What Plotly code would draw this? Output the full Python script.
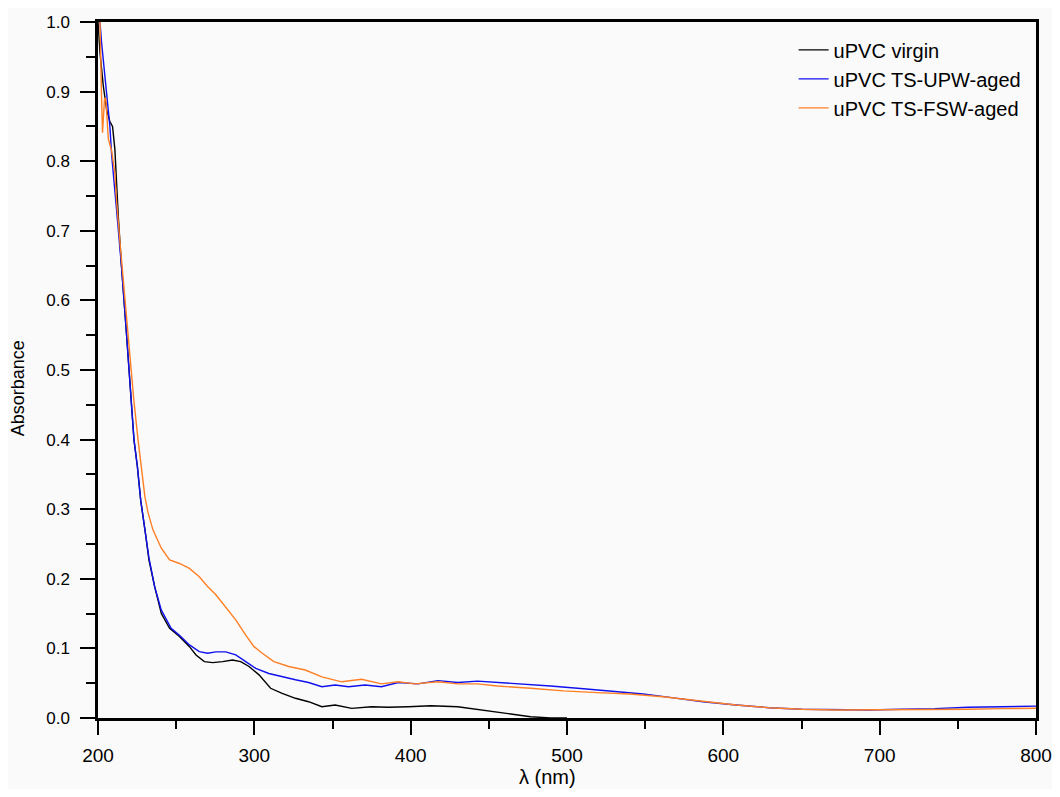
import plotly.graph_objects as go

# ---- data ----
wl_virgin = [200, 201.3, 203.4, 205.5, 207.6, 209.3, 210.8, 211.9, 213, 215, 217.2, 218.2, 219.7,
             221, 223, 225.2, 227.3, 230.3, 232.6, 236.2, 240.5, 245.8, 252.1, 258.5, 262.7, 268,
             273.3, 279.7, 286, 291.3, 296.6, 303, 310.4, 317.8, 326.3, 334.7, 343.2, 351.7, 362.3,
             375, 385.6, 398.3, 413.1, 430.1, 447, 464, 476.7, 489.4, 500]
abs_virgin = [1.0, 0.955, 0.908, 0.874, 0.857, 0.850, 0.817, 0.762, 0.72, 0.65, 0.589, 0.553, 0.505,
              0.457, 0.40, 0.361, 0.313, 0.266, 0.227, 0.189, 0.150, 0.129, 0.117, 0.1025, 0.0906, 0.081,
              0.0795, 0.081, 0.0834, 0.081, 0.074, 0.062, 0.0427, 0.0355, 0.0283, 0.0234, 0.0162, 0.0187, 0.0139,
              0.0162, 0.0154, 0.0162, 0.0177, 0.0162, 0.0115, 0.0058, 0.0019, 0.0, 0.0]

wl_upw = [200, 201.3, 202.3, 204.4, 206, 207.6, 208.7, 210.4, 212.9, 215.1, 217.2, 218.2, 219.7,
          221, 223, 225.2, 227.3, 230.3, 232.6, 236.2, 240.5, 246.8, 252.1, 258.5, 264.8, 270.1,
          275.4, 281.8, 288.1, 294.5, 300.9, 309.3, 317.8, 326.3, 334.7, 343.2, 351.7, 360.2, 370.8,
          381.3, 392, 404.7, 417.4, 430.1, 442.8, 464, 489.4, 510.6, 531.8, 548.7, 565.7, 586.9,
          608.1, 629.2, 650.4, 671.6, 692.8, 714, 735.2, 756.4, 777.6, 798.7, 800]
abs_upw = [1.02, 0.999, 0.970, 0.922, 0.889, 0.850, 0.810, 0.762, 0.704, 0.647, 0.589, 0.553, 0.505,
           0.457, 0.40, 0.361, 0.313, 0.266, 0.230, 0.189, 0.155, 0.129, 0.119, 0.105, 0.0954, 0.093,
           0.095, 0.095, 0.0906, 0.081, 0.0714, 0.064, 0.059, 0.055, 0.051, 0.045, 0.0475, 0.045, 0.0475,
           0.045, 0.051, 0.049, 0.0537, 0.051, 0.053, 0.050, 0.046, 0.042, 0.038, 0.0345, 0.0297, 0.0234,
           0.0187, 0.0148, 0.0125, 0.0115, 0.0115, 0.0125, 0.0134, 0.0154, 0.0162, 0.0173, 0.017]

wl_fsw = [200, 201.3, 202.3, 202.9, 204.2, 205, 206.6, 208.7, 210.8, 211.9, 214, 216.1, 217.6, 218.9,
          221, 222.9, 225.6, 227.7, 228.8, 230, 232, 235.2, 240.5, 245.8, 252.1, 258.5, 264.8, 270.1,
          275.4, 281.8, 288.1, 294.5, 299.8, 305.1, 312.5, 322, 332.6, 343.2, 355.9, 368.6, 381.3,
          392, 402.6, 417.4, 430.1, 442.8, 455.5, 476.7, 497.9, 519.1, 540.2, 561.4, 580.5, 608.1,
          629.2, 650.4, 671.6, 692.8, 714, 735.2, 756.4, 777.6, 798.7, 800]
abs_fsw = [1.02, 0.999, 0.889, 0.841, 0.891, 0.889, 0.832, 0.815, 0.783, 0.742, 0.685, 0.632, 0.589, 0.553,
           0.505, 0.457, 0.40, 0.361, 0.345, 0.318, 0.295, 0.270, 0.244, 0.227, 0.222, 0.215, 0.203, 0.189,
           0.177, 0.158, 0.141, 0.119, 0.1025, 0.093, 0.081, 0.074, 0.069, 0.059, 0.052, 0.0556, 0.049,
           0.052, 0.049, 0.052, 0.049, 0.049, 0.046, 0.0427, 0.039, 0.0364, 0.0345, 0.0306, 0.026, 0.0187,
           0.0148, 0.0125, 0.0115, 0.0115, 0.012, 0.0125, 0.0125, 0.0134, 0.014, 0.014]

names = ["uPVC virgin", "uPVC TS-UPW-aged", "uPVC TS-FSW-aged"]
colors = ["#000000", "#1010ee", "#ff7f24"]

x_ticks = [200, 300, 400, 500, 600, 700, 800]
y_ticks = [0.0, 0.1, 0.2, 0.3, 0.4, 0.5, 0.6, 0.7, 0.8, 0.9, 1.0]
x_title = "λ (nm)"
y_title = "Absorbance"

fig = go.Figure()
for wl, ab, nm, c in zip([wl_virgin, wl_upw, wl_fsw], [abs_virgin, abs_upw, abs_fsw], names, colors):
    fig.add_trace(go.Scatter(x=wl, y=ab, mode="lines", name=nm,
                             line=dict(color=c, width=1.4)))

bg = "#fafafa"
fig.update_layout(
    width=1044, height=781,
    margin=dict(l=90, r=16, t=14, b=71),
    paper_bgcolor=bg, plot_bgcolor=bg,
    font=dict(family="Liberation Sans, Arial, sans-serif", color="#000000", size=17),
    showlegend=True,
    legend=dict(x=0.99, y=0.988, xanchor="right", yanchor="top",
                bgcolor="rgba(0,0,0,0)", font=dict(size=20), tracegroupgap=0),
    xaxis=dict(range=[200, 800], tickvals=x_ticks, ticktext=[str(v) for v in x_ticks],
               automargin=False,
               showgrid=False, zeroline=False, showline=True, linecolor="black", linewidth=2.5,
               mirror=True, ticks="outside", ticklen=14, tickwidth=2, tickcolor="black",
               tickfont=dict(size=19), ticklabelstandoff=4,
               minor=dict(dtick=50, tick0=0, ticks="outside", ticklen=8, tickwidth=2, tickcolor="black")),
    yaxis=dict(range=[0, 1.0], tickvals=y_ticks, ticktext=[f"{v:.1f}" for v in y_ticks],
               automargin=False,
               showgrid=False, zeroline=False, showline=True, linecolor="black", linewidth=2.5,
               mirror=True, ticks="outside", ticklen=15, tickwidth=2, tickcolor="black",
               tickfont=dict(size=17), ticklabelstandoff=7,
               minor=dict(dtick=0.05, tick0=0, ticks="outside", ticklen=9, tickwidth=2, tickcolor="black")),
    annotations=[
        dict(text=x_title, xref="paper", yref="paper", x=0.4796, y=-0.1019,
             xanchor="center", yanchor="bottom", showarrow=False, font=dict(size=20), borderpad=0),
        dict(text=y_title, xref="paper", yref="paper", x=-0.085, y=0.474, textangle=-90,
             xanchor="center", yanchor="middle", showarrow=False, font=dict(size=18)),
    ],
)

fig.write_html("out.html")
